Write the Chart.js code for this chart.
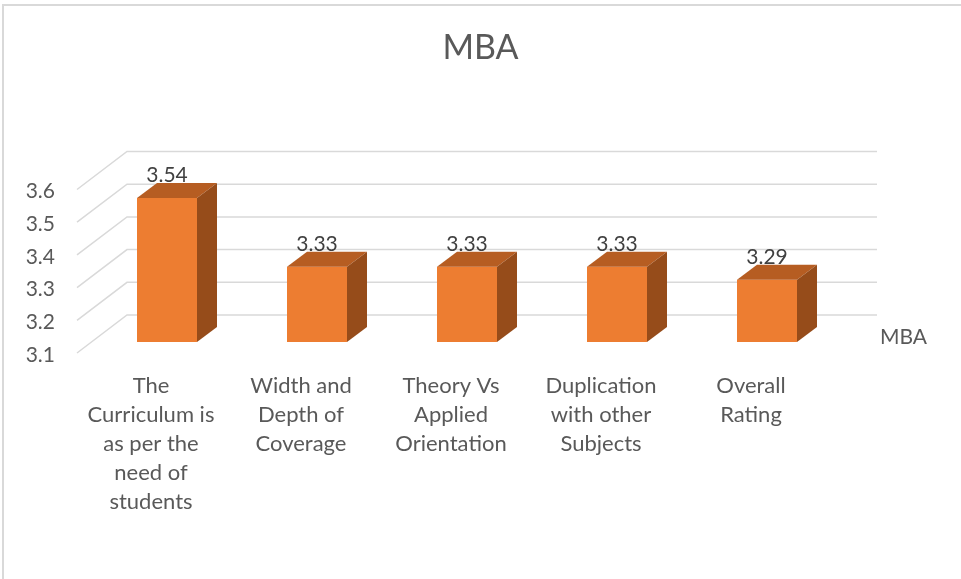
<!DOCTYPE html>
<html>
<head>
<meta charset="utf-8">
<script src="https://cdn.jsdelivr.net/npm/chart.js@4/dist/chart.umd.min.js"></script>
<style>
  html, body { margin: 0; padding: 0; background: #fff; overflow: hidden; }
  #wrap { position: relative; width: 961px; height: 579px; }
  #frame { position: absolute; left: 2px; top: 4px; width: 2000px; height: 2000px;
           border-left: 2px solid #d9d9d9; border-top: 2px solid #d9d9d9; box-sizing: border-box; }
  canvas { position: absolute; left: 0; top: 0; }
</style>
</head>
<body>
<div id="wrap">
  <div id="frame"></div>
  <canvas id="c" width="961" height="579"></canvas>
</div>
<script>
// ---- data ----
const chartTitle = "MBA";
const seriesName = "MBA";
const categories = [
  ["The", "Curriculum is", "as per the", "need of", "students"],
  ["Width and", "Depth of", "Coverage"],
  ["Theory Vs", "Applied", "Orientation"],
  ["Duplication", "with other", "Subjects"],
  ["Overall", "Rating"]
];
const values = [3.54, 3.33, 3.33, 3.33, 3.29];
const yMin = 3.1, yMax = 3.6, yStep = 0.1;

// ---- style ----
const FRONT = '#ED7D31', TOP = '#B65D22', SIDE = '#964C1A';
const GRID = '#d9d9d9';
const FONT = 'Lato';
const BACK_DX = 35, BACK_DY = -27;   // bar plane -> back wall
const FRONT_DX = -15, FRONT_DY = 11; // bar plane -> front edge
const BAR_DX = 20, BAR_DY = -15;     // bar depth

const threeD = {
  id: 'threeD',
  beforeDatasetsDraw(chart) {
    const { ctx, chartArea: a, scales: { y } } = chart;
    ctx.save();
    ctx.strokeStyle = GRID;
    ctx.lineWidth = 1.5;
    y.ticks.forEach(t => {
      const py = y.getPixelForValue(t.value);
      ctx.beginPath();
      ctx.moveTo(a.left + FRONT_DX, py + FRONT_DY);
      ctx.lineTo(a.left + BACK_DX, py + BACK_DY);
      ctx.lineTo(a.right + BACK_DX, py + BACK_DY);
      ctx.stroke();
    });
    ctx.restore();
  },
  afterDatasetsDraw(chart) {
    const { ctx, chartArea: a, scales: { y } } = chart;
    const meta = chart.getDatasetMeta(0);
    ctx.save();
    meta.data.forEach((bar, i) => {
      const p = bar.getProps(['x', 'y', 'base', 'width'], true);
      const l = p.x - p.width / 2, r = p.x + p.width / 2;
      const base = Math.min(p.base, a.bottom);
      // top
      ctx.fillStyle = TOP;
      ctx.beginPath();
      ctx.moveTo(l, p.y); ctx.lineTo(r, p.y);
      ctx.lineTo(r + BAR_DX, p.y + BAR_DY); ctx.lineTo(l + BAR_DX, p.y + BAR_DY);
      ctx.closePath(); ctx.fill();
      // side
      ctx.fillStyle = SIDE;
      ctx.beginPath();
      ctx.moveTo(r, p.y); ctx.lineTo(r + BAR_DX, p.y + BAR_DY);
      ctx.lineTo(r + BAR_DX, base + BAR_DY); ctx.lineTo(r, base);
      ctx.closePath(); ctx.fill();
      // value label
      ctx.fillStyle = '#404040';
      ctx.font = '21px ' + FONT;
      ctx.textAlign = 'center';
      ctx.textBaseline = 'alphabetic';
      ctx.fillText(values[i].toFixed(2), p.x, p.y - 16);
    });
    // depth axis label
    ctx.fillStyle = '#595959';
    ctx.font = '21px ' + FONT;
    ctx.textAlign = 'left';
    ctx.textBaseline = 'middle';
    ctx.fillText(seriesName, a.right + 38, y.getPixelForValue(yMin) - 5);
    ctx.restore();
  }
};

new Chart(document.getElementById('c'), {
  type: 'bar',
  data: {
    labels: categories,
    datasets: [{
      label: seriesName,
      data: values,
      backgroundColor: FRONT,
      borderWidth: 0,
      categoryPercentage: 1,
      barPercentage: 0.4
    }]
  },
  options: {
    responsive: false,
    animation: false,
    events: [],
    layout: { padding: { left: 0, right: 0, top: 0, bottom: 0 } },
    plugins: {
      legend: { display: false },
      tooltip: { enabled: false },
      title: {
        display: true,
        text: chartTitle,
        color: '#595959',
        font: { family: FONT, size: 34, weight: 'normal', lineHeight: 1.2 },
        padding: { top: 28, bottom: 109.7 }
      }
    },
    scales: {
      x: {
        grid: { display: false, drawTicks: false },
        border: { display: false },
        ticks: {
          color: '#595959',
          font: { family: FONT, size: 22, lineHeight: '29px' },
          padding: 29.5,
          labelOffset: -16,
          maxRotation: 0, minRotation: 0,
          autoSkip: false
        },
        afterFit(s) { s.height = 237; }
      },
      y: {
        min: yMin, max: yMax,
        grid: { display: false, drawTicks: false },
        border: { display: false },
        ticks: {
          stepSize: yStep,
          color: '#595959',
          font: { family: FONT, size: 21 },
          padding: 37,
          labelOffset: 13,
          callback: v => Number(v).toFixed(1)
        },
        afterFit(s) { s.width = 92; }
      },
      yRight: {
        position: 'right',
        display: true,
        grid: { display: false, drawTicks: false },
        border: { display: false },
        ticks: { display: false },
        afterFit(s) { s.width = 119; }
      }
    }
  },
  plugins: [threeD]
});
</script>
</body>
</html>
